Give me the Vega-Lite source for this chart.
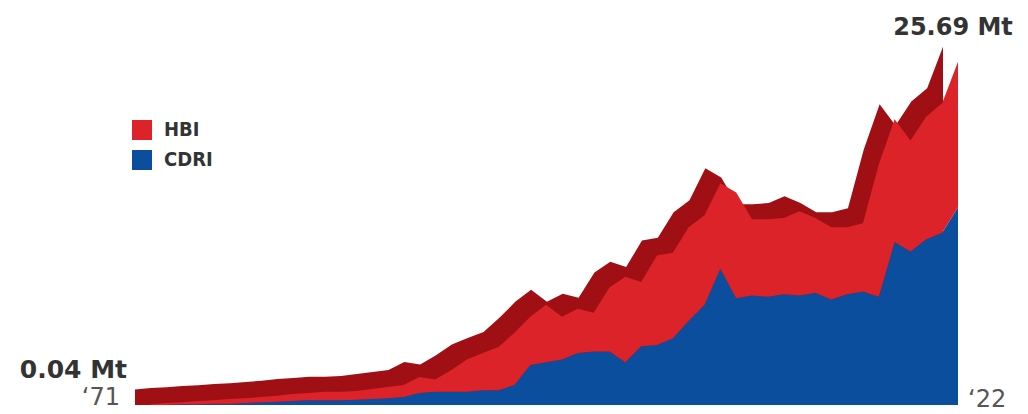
{
  "$schema": "https://vega.github.io/schema/vega-lite/v6.json",
  "width": 808,
  "height": 374,
  "autosize": {"type": "none"},
  "padding": {"left": 150, "top": 31, "right": 70, "bottom": 9},
  "background": "white",
  "config": {"view": {"stroke": null}, "font": "DejaVu Sans"},
  "datasets": {
    "prod": [
      {"year": 1971, "type": "CDRI", "value": 0.0}, {"year": 1971, "type": "HBI", "value": 0.04},
      {"year": 1972, "type": "CDRI", "value": 0.0}, {"year": 1972, "type": "HBI", "value": 0.15},
      {"year": 1973, "type": "CDRI", "value": 0.05}, {"year": 1973, "type": "HBI", "value": 0.15},
      {"year": 1974, "type": "CDRI", "value": 0.05}, {"year": 1974, "type": "HBI", "value": 0.25},
      {"year": 1975, "type": "CDRI", "value": 0.1}, {"year": 1975, "type": "HBI", "value": 0.25},
      {"year": 1976, "type": "CDRI", "value": 0.1}, {"year": 1976, "type": "HBI", "value": 0.35},
      {"year": 1977, "type": "CDRI", "value": 0.15}, {"year": 1977, "type": "HBI", "value": 0.35},
      {"year": 1978, "type": "CDRI", "value": 0.2}, {"year": 1978, "type": "HBI", "value": 0.4},
      {"year": 1979, "type": "CDRI", "value": 0.25}, {"year": 1979, "type": "HBI", "value": 0.45},
      {"year": 1980, "type": "CDRI", "value": 0.3}, {"year": 1980, "type": "HBI", "value": 0.52},
      {"year": 1981, "type": "CDRI", "value": 0.35}, {"year": 1981, "type": "HBI", "value": 0.55},
      {"year": 1982, "type": "CDRI", "value": 0.35}, {"year": 1982, "type": "HBI", "value": 0.65},
      {"year": 1983, "type": "CDRI", "value": 0.35}, {"year": 1983, "type": "HBI", "value": 0.65},
      {"year": 1984, "type": "CDRI", "value": 0.4}, {"year": 1984, "type": "HBI", "value": 0.65},
      {"year": 1985, "type": "CDRI", "value": 0.45}, {"year": 1985, "type": "HBI", "value": 0.75},
      {"year": 1986, "type": "CDRI", "value": 0.5}, {"year": 1986, "type": "HBI", "value": 0.85},
      {"year": 1987, "type": "CDRI", "value": 0.6}, {"year": 1987, "type": "HBI", "value": 0.9},
      {"year": 1988, "type": "CDRI", "value": 0.9}, {"year": 1988, "type": "HBI", "value": 1.2},
      {"year": 1989, "type": "CDRI", "value": 1.0}, {"year": 1989, "type": "HBI", "value": 0.9},
      {"year": 1990, "type": "CDRI", "value": 1.0}, {"year": 1990, "type": "HBI", "value": 1.6},
      {"year": 1991, "type": "CDRI", "value": 1.0}, {"year": 1991, "type": "HBI", "value": 2.4},
      {"year": 1992, "type": "CDRI", "value": 1.1}, {"year": 1992, "type": "HBI", "value": 2.8},
      {"year": 1993, "type": "CDRI", "value": 1.1}, {"year": 1993, "type": "HBI", "value": 3.25},
      {"year": 1994, "type": "CDRI", "value": 1.5}, {"year": 1994, "type": "HBI", "value": 3.9},
      {"year": 1995, "type": "CDRI", "value": 3.0}, {"year": 1995, "type": "HBI", "value": 3.6},
      {"year": 1996, "type": "CDRI", "value": 3.2}, {"year": 1996, "type": "HBI", "value": 4.3},
      {"year": 1997, "type": "CDRI", "value": 3.4}, {"year": 1997, "type": "HBI", "value": 3.2},
      {"year": 1998, "type": "CDRI", "value": 3.9}, {"year": 1998, "type": "HBI", "value": 3.3},
      {"year": 1999, "type": "CDRI", "value": 4.0}, {"year": 1999, "type": "HBI", "value": 2.9},
      {"year": 2000, "type": "CDRI", "value": 4.0}, {"year": 2000, "type": "HBI", "value": 4.8},
      {"year": 2001, "type": "CDRI", "value": 3.2}, {"year": 2001, "type": "HBI", "value": 6.4},
      {"year": 2002, "type": "CDRI", "value": 4.4}, {"year": 2002, "type": "HBI", "value": 4.8},
      {"year": 2003, "type": "CDRI", "value": 4.5}, {"year": 2003, "type": "HBI", "value": 6.7},
      {"year": 2004, "type": "CDRI", "value": 5.0}, {"year": 2004, "type": "HBI", "value": 6.4},
      {"year": 2005, "type": "CDRI", "value": 6.3}, {"year": 2005, "type": "HBI", "value": 7.0},
      {"year": 2006, "type": "CDRI", "value": 7.5}, {"year": 2006, "type": "HBI", "value": 6.7},
      {"year": 2007, "type": "CDRI", "value": 10.2}, {"year": 2007, "type": "HBI", "value": 6.4},
      {"year": 2008, "type": "CDRI", "value": 8.0}, {"year": 2008, "type": "HBI", "value": 7.9},
      {"year": 2009, "type": "CDRI", "value": 8.2}, {"year": 2009, "type": "HBI", "value": 5.7},
      {"year": 2010, "type": "CDRI", "value": 8.1}, {"year": 2010, "type": "HBI", "value": 5.8},
      {"year": 2011, "type": "CDRI", "value": 8.3}, {"year": 2011, "type": "HBI", "value": 5.7},
      {"year": 2012, "type": "CDRI", "value": 8.2}, {"year": 2012, "type": "HBI", "value": 6.3},
      {"year": 2013, "type": "CDRI", "value": 8.4}, {"year": 2013, "type": "HBI", "value": 5.6},
      {"year": 2014, "type": "CDRI", "value": 7.9}, {"year": 2014, "type": "HBI", "value": 5.4},
      {"year": 2015, "type": "CDRI", "value": 8.3}, {"year": 2015, "type": "HBI", "value": 5.0},
      {"year": 2016, "type": "CDRI", "value": 8.5}, {"year": 2016, "type": "HBI", "value": 5.1},
      {"year": 2017, "type": "CDRI", "value": 8.1}, {"year": 2017, "type": "HBI", "value": 9.9},
      {"year": 2018, "type": "CDRI", "value": 12.2}, {"year": 2018, "type": "HBI", "value": 9.2},
      {"year": 2019, "type": "CDRI", "value": 11.5}, {"year": 2019, "type": "HBI", "value": 8.3},
      {"year": 2020, "type": "CDRI", "value": 12.4}, {"year": 2020, "type": "HBI", "value": 9.2},
      {"year": 2021, "type": "CDRI", "value": 12.9}, {"year": 2021, "type": "HBI", "value": 9.7},
      {"year": 2022, "type": "CDRI", "value": 14.8}, {"year": 2022, "type": "HBI", "value": 10.89}
    ]
  },
  "layer": [
    {
      "data": {"name": "prod"},
      "mark": {"type": "area", "xOffset": -15, "yOffset": -15, "color": "#a00f14"},
      "encoding": {
        "x": {"field": "year", "type": "quantitative", "scale": {"domain": [1971, 2022], "nice": false, "zero": false}, "axis": null},
        "y": {"aggregate": "sum", "field": "value", "type": "quantitative", "scale": {"domain": [0, 28], "nice": false}, "axis": null}
      }
    },
    {
      "data": {"name": "prod"},
      "mark": {"type": "area"},
      "encoding": {
        "x": {"field": "year", "type": "quantitative", "scale": {"domain": [1971, 2022], "nice": false, "zero": false}, "axis": null},
        "y": {"field": "value", "type": "quantitative", "stack": "zero", "scale": {"domain": [0, 28], "nice": false}, "axis": null},
        "color": {
          "field": "type", "type": "nominal",
          "scale": {"domain": ["HBI", "CDRI"], "range": ["#dc2329", "#0b4e9e"]},
          "legend": {
            "title": null, "orient": "none", "legendX": -18, "legendY": 89,
            "symbolType": "square", "symbolSize": 400, "symbolStrokeWidth": 0, "symbolOpacity": 1,
            "labelFont": "DejaVu Sans Condensed", "labelFontWeight": "bold", "labelFontSize": 20, "labelColor": "#333333",
            "labelOffset": 12, "rowPadding": 10, "padding": 0
          }
        },
        "order": {"field": "type", "sort": "ascending"}
      }
    },
    {
      "data": {"values": [{"year": 1971, "value": 0.04, "label": "0.04 Mt"}]},
      "mark": {"type": "text", "align": "right", "baseline": "alphabetic", "dx": -23, "dy": -26, "font": "DejaVu Sans", "fontWeight": "bold", "fontSize": 25, "color": "#333333"},
      "encoding": {
        "x": {"field": "year", "type": "quantitative"},
        "y": {"field": "value", "type": "quantitative"},
        "text": {"field": "label"}
      }
    },
    {
      "data": {"values": [{"year": 1971, "value": 0, "label": "‘71"}]},
      "mark": {"type": "text", "align": "right", "baseline": "alphabetic", "dx": -30, "dy": 0, "font": "DejaVu Sans", "fontSize": 24, "color": "#555555"},
      "encoding": {
        "x": {"field": "year", "type": "quantitative"},
        "y": {"field": "value", "type": "quantitative"},
        "text": {"field": "label"}
      }
    },
    {
      "data": {"values": [{"year": 2022, "value": 25.69, "label": "25.69 Mt"}]},
      "mark": {"type": "text", "align": "center", "baseline": "alphabetic", "dx": -5, "dy": -27, "font": "DejaVu Sans", "fontWeight": "bold", "fontSize": 24, "color": "#333333"},
      "encoding": {
        "x": {"field": "year", "type": "quantitative"},
        "y": {"field": "value", "type": "quantitative"},
        "text": {"field": "label"}
      }
    },
    {
      "data": {"values": [{"year": 2022, "value": 0, "label": "‘22"}]},
      "mark": {"type": "text", "align": "left", "baseline": "alphabetic", "dx": 10, "dy": 2, "font": "DejaVu Sans", "fontSize": 24, "color": "#555555"},
      "encoding": {
        "x": {"field": "year", "type": "quantitative"},
        "y": {"field": "value", "type": "quantitative"},
        "text": {"field": "label"}
      }
    }
  ]
}
